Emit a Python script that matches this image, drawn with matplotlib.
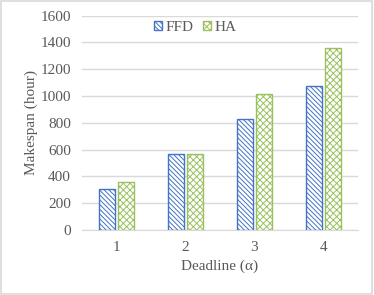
import matplotlib
matplotlib.use("Agg")
import matplotlib.pyplot as plt
import numpy as np
from matplotlib.patches import Rectangle

categories = ["1", "2", "3", "4"]
ffd = [310, 571, 831, 1072]
ha = [362, 566, 1014, 1357]
yticks = [0, 200, 400, 600, 800, 1000, 1200, 1400, 1600]

plt.rcParams['font.family'] = ['Liberation Serif', 'DejaVu Serif']
plt.rcParams['hatch.linewidth'] = 0.7
txt = '#595959'
blue = '#4472C4'
green = '#9BC15F'

fig = plt.figure(figsize=(3.74, 2.95), dpi=100)
fig.patches.append(Rectangle((0.004, 0.005), 0.99, 0.99, transform=fig.transFigure,
                             fill=False, edgecolor='#D9D9D9', linewidth=1.2))
ax = fig.add_axes([0.219, 0.220, 0.738, 0.727])
x = np.arange(len(categories))
w = 0.23
ax.bar(x - 0.14, ffd, w, facecolor='white', edgecolor=blue, hatch='\\' * 7, linewidth=1.0, label='FFD', zorder=3)
ax.bar(x + 0.145, ha, w, facecolor='white', edgecolor=green, hatch='x' * 5, linewidth=1.0, label='HA', zorder=3)
ax.set_xlim(-0.5, 3.5)
ax.set_ylim(0, 1600)
ax.set_yticks(yticks)
ax.set_xticks(x)
ax.set_xticklabels(categories)
ax.yaxis.grid(True, color='#D9D9D9', linewidth=1.0, zorder=0)
for s in ['top', 'right', 'left']:
    ax.spines[s].set_visible(False)
ax.spines['bottom'].set_color('#D9D9D9')
ax.tick_params(axis='both', length=0, colors=txt, labelsize=11)
ax.tick_params(axis='x', pad=8)
ax.tick_params(axis='y', pad=8)
ax.set_xlabel('Deadline (α)', color=txt, fontsize=11, labelpad=4)
ax.set_ylabel('Makespan (hour)', color=txt, fontsize=11, labelpad=2)
leg = ax.legend(loc='upper center', bbox_to_anchor=(0.41, 1.04), ncol=2, frameon=False,
                handlelength=0.55, handleheight=0.55, handletextpad=0.2, columnspacing=0.6,
                fontsize=11, labelcolor=txt)
fig.savefig('out.png', dpi=100)
